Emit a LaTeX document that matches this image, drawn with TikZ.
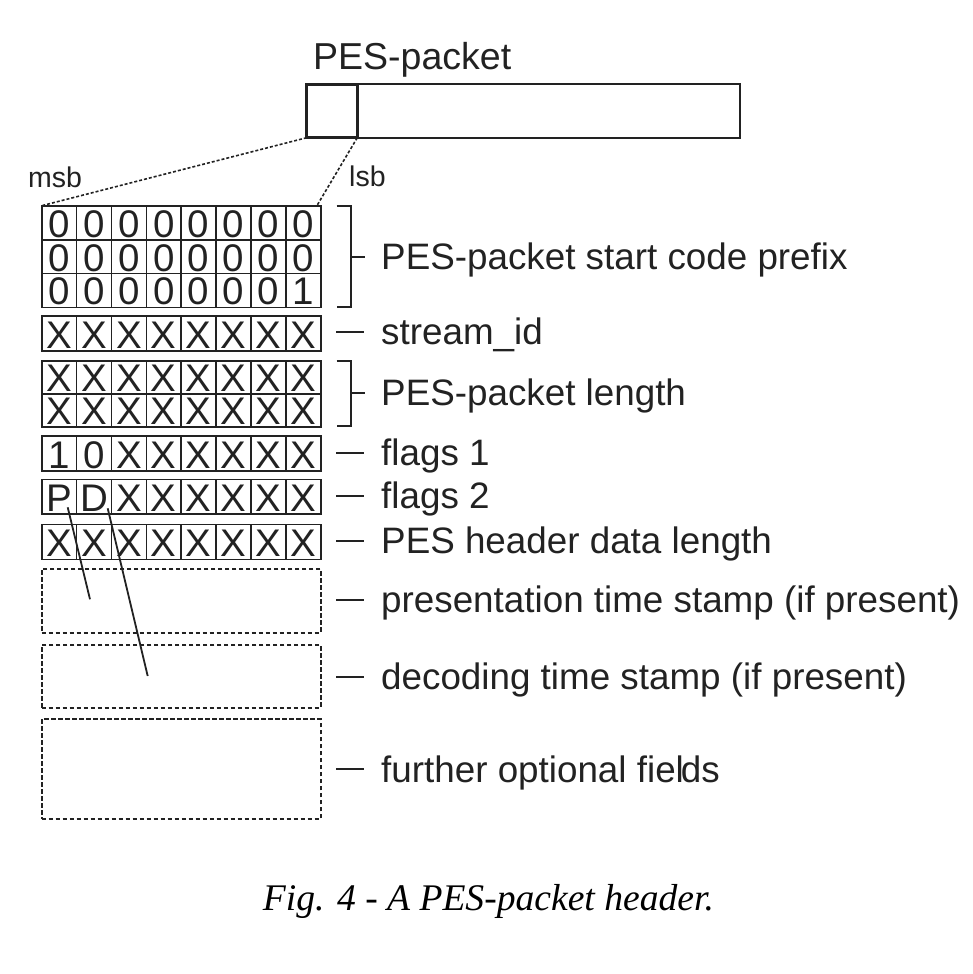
\documentclass[tikz,border=0pt]{standalone}
\usepackage{fontspec}
\setmainfont{Liberation Sans}
\newfontfamily\capfont{Liberation Serif}
\definecolor{ink}{HTML}{222222}
\newcommand\lblfont{\fontsize{36.8}{40}\selectfont}
\newcommand\bitfont{\fontsize{38.5}{42}\selectfont}
\newcommand\smfont{\fontsize{28.5}{32}\selectfont}
\newcommand\cellw{34.875}
\newcommand\gridL{41.7}
\newcommand\gridR{320.7}
\tikzset{
  cellbox/.style={draw=ink, line width=1.6pt},
  bit/.style={font=\bitfont, anchor=base, inner sep=0pt, text=ink, text height=27pt, text depth=0pt},
  lbl/.style={font=\lblfont, anchor=base west, inner sep=0pt, text=ink},
  tickline/.style={draw=ink, line width=2pt},
  optbox/.style={draw=ink, dash pattern=on 4.5pt off 2.5pt, line width=1.8pt},
  zoomline/.style={draw=ink, dash pattern=on 3pt off 2pt, line width=1.6pt},
  pointer/.style={draw=ink, line width=1.8pt},
}
\newcommand\byterow[4]{%
  \draw[cellbox] (\gridL,#2) rectangle (\gridR,#3);
  \foreach \i in {1,...,7} \draw[cellbox] ({\gridL+\cellw*\i},#2) -- ({\gridL+\cellw*\i},#3);
  \foreach \c [count=\i] in {#4} {
    \node[bit] (#1-\i) at ({\gridL+\cellw*(\i-0.5)}, {#3-2.5}) {\c};
  }%
}
\newcommand\dashlabel[3]{%
  \coordinate (#1-a) at (336,#2);
  \coordinate (#1-b) at (364,#2);
  \draw[tickline] (#1-a) -- (#1-b);
  \node[lbl] (#1-t) at (381,{#2+12.8}) {#3};
}
\begin{document}
\begin{tikzpicture}[x=1pt,y=-1pt]
\useasboundingbox (0,0) rectangle (972,974);
% top packet
\node[font=\fontsize{37.5}{40}\selectfont, anchor=base west, inner sep=0pt, text=ink] (title) at (313,69.5) {PES-packet};
\node[draw=ink, line width=2pt, inner sep=0pt, outer sep=0pt, minimum width=433.3pt, minimum height=53.7pt, anchor=north west] (pkt) at (306.7,84) {};
\node[draw=ink, line width=3pt, inner sep=0pt, outer sep=0pt, minimum width=50.6pt, minimum height=53.7pt, anchor=north west] (hdr) at (306.7,84) {};
\node[font=\smfont, anchor=base west, inner sep=0pt, text=ink] (msb) at (28,187) {msb};
\node[font=\smfont, anchor=base west, inner sep=0pt, text=ink] (lsb) at (349,186.7) {lsb};
\coordinate (gtl) at (42.5,205.5);
\coordinate (gtr) at (317,205.5);
\draw[zoomline] (hdr.south west) -- (gtl);
\draw[zoomline] (hdr.south east) -- (gtr);
% start code prefix
\byterow{sc1}{206}{240}{0,0,0,0,0,0,0,0}
\byterow{sc2}{240}{273.6}{0,0,0,0,0,0,0,0}
\byterow{sc3}{273.6}{307.3}{0,0,0,0,0,0,0,1}
\byterow{sid}{316}{350.7}{X,X,X,X,X,X,X,X}
\byterow{len1}{360.7}{394}{X,X,X,X,X,X,X,X}
\byterow{len2}{394}{426.7}{X,X,X,X,X,X,X,X}
\byterow{f1}{435.7}{471}{1,0,X,X,X,X,X,X}
\byterow{f2}{479.3}{514}{P,D,X,X,X,X,X,X}
\byterow{hdl}{524.3}{559.3}{X,X,X,X,X,X,X,X}
% optional fields
\node[optbox, inner sep=0pt, outer sep=0pt, minimum width=279pt, minimum height=63.7pt, anchor=north west] (pts) at (\gridL,569) {};
\node[optbox, inner sep=0pt, outer sep=0pt, minimum width=279pt, minimum height=62.7pt, anchor=north west] (dts) at (\gridL,645) {};
\node[optbox, inner sep=0pt, outer sep=0pt, minimum width=279pt, minimum height=100pt, anchor=north west] (opt) at (\gridL,719.3) {};
% pointers from P and D
\coordinate (pS) at (67.7,507.3);
\coordinate (pE) at (90,599.3);
\coordinate (dS) at (107.7,508.3);
\coordinate (dE) at (147.7,676);
\draw[pointer] (pS) -- (pE);
\draw[pointer] (dS) -- (dE);
% brackets
\draw[tickline] (336.7,206) -- (350.7,206) -- (350.7,307) -- (336.7,307);
\draw[tickline] (350.7,256.5) -- (365,256.5);
\node[lbl] (scp) at (381,{256.5+12.8}) {PES-packet start code prefix};
\draw[tickline] (336.7,360.7) -- (350.7,360.7) -- (350.7,425.5) -- (336.7,425.5);
\draw[tickline] (350.7,393) -- (365,393);
\node[lbl] (plen) at (381,{393+12.8}) {PES-packet length};
\dashlabel{sidl}{331.7}{stream\_id}
\dashlabel{fl1}{452.7}{flags 1}
\dashlabel{fl2}{496}{flags 2}
\dashlabel{hdll}{541}{PES header data length}
\dashlabel{ptsl}{600}{presentation time stamp (if present)}
\dashlabel{dtsl}{676.7}{decoding time stamp (if present)}
\dashlabel{optl}{769.3}{further optional fiel\kern-0.08em ds}
% caption
\node[font={\capfont\itshape\fontsize{37.6}{42}\selectfont}, anchor=base west, inner sep=0pt, text=black] (cap) at (262.7,910) {Fig. 4 - A PES-packet header.};
\end{tikzpicture}
\end{document}
